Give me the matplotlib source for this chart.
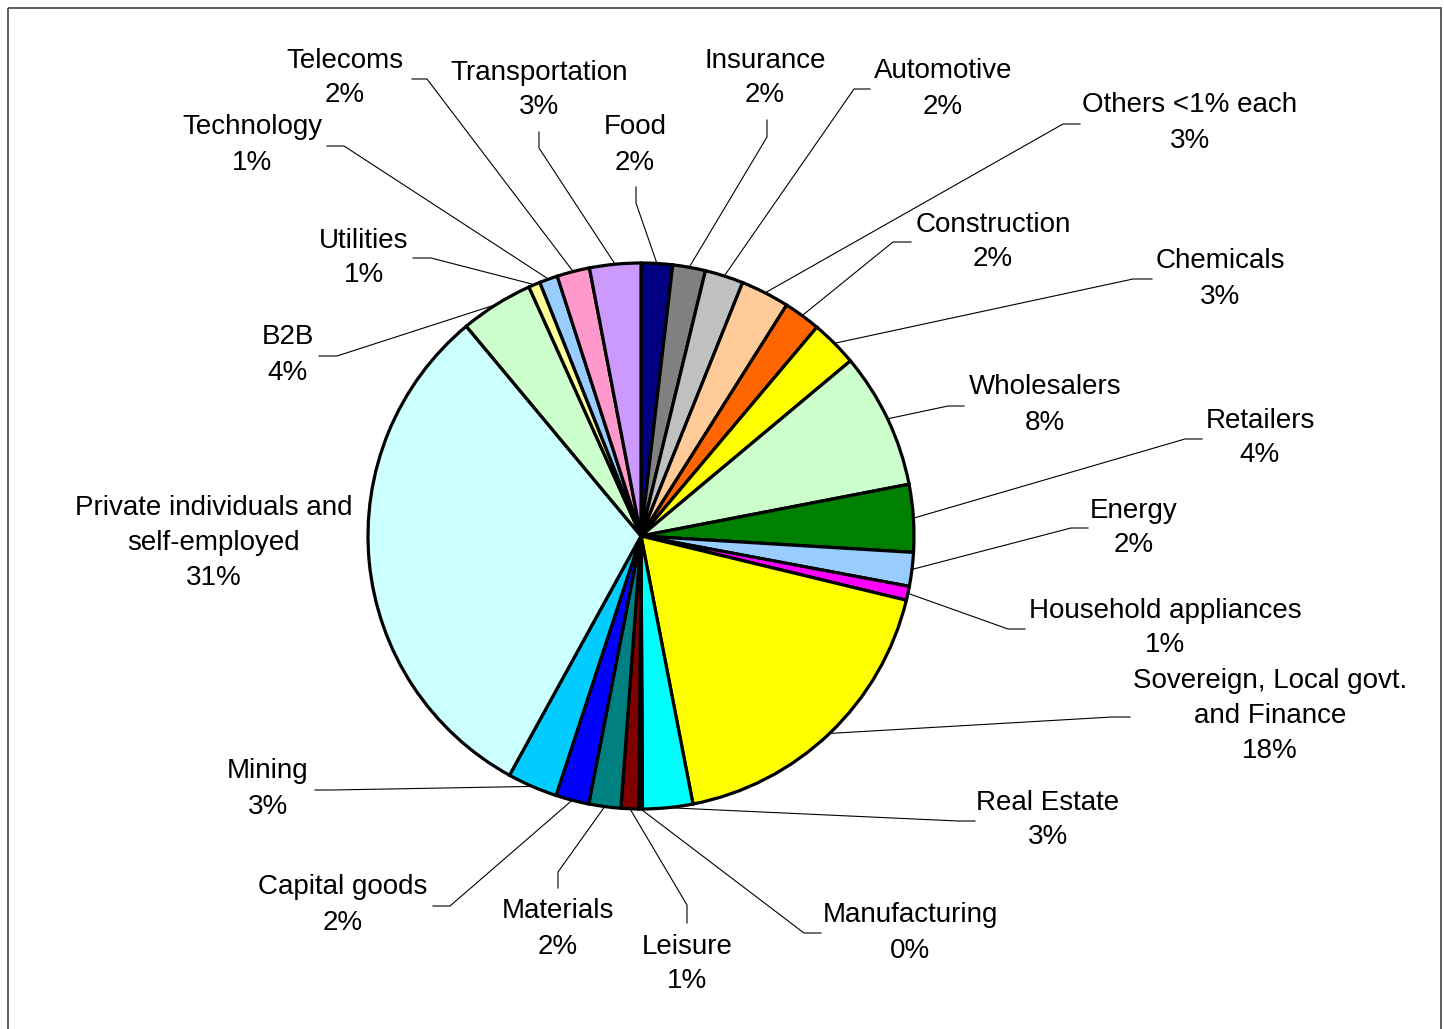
import matplotlib.pyplot as plt
import numpy as np
from matplotlib.patches import Rectangle

plt.rcParams['font.family'] = ['Liberation Sans', 'DejaVu Sans']

# sectors, clockwise from 12 o'clock
sectors = ['Food', 'Insurance', 'Automotive', 'Others <1% each', 'Construction',
           'Chemicals', 'Wholesalers', 'Retailers', 'Energy', 'Household appliances',
           'Sovereign, Local govt.\nand Finance', 'Real Estate', 'Manufacturing',
           'Leisure', 'Materials', 'Capital goods', 'Mining',
           'Private individuals and\nself-employed', 'B2B', 'Utilities',
           'Technology', 'Telecoms', 'Transportation']
shares = [1.86, 1.94, 2.28, 2.89, 2.19,
          2.78, 8.06, 4.00, 2.00, 0.83,
          18.20, 2.97, 0.20,
          1.06, 1.90, 1.97, 2.97,
          31.00, 4.33, 0.69,
          1.08, 1.94, 3.03]
colours = ['#000080', '#808080', '#C0C0C0', '#FFCC99', '#FF6600',
           '#FFFF00', '#CCFFCC', '#008000', '#99CCFF', '#FF00FF',
           '#FFFF00', '#00FFFF', '#800080',
           '#800000', '#008080', '#0000FF', '#00CCFF',
           '#CCFFFF', '#CCFFCC', '#FFFF99',
           '#99CCFF', '#FF99CC', '#CC99FF']

# label block centres and the short leader piece next to each label (pixels)
label_xy = [(635, 145), (765, 78), (943, 89), (1190, 123), (993, 242),
            (1220, 279), (1045, 405), (1260, 438), (1134, 528), (1165, 628),
            (1270, 716), (1048, 820), (910, 933),
            (687, 964), (558, 929), (343, 905), (268, 789),
            (214, 543), (288, 355), (364, 258),
            (252, 145), (345, 78), (539, 90)]
leader_stub = [((636, 187), (636, 203)), ((767, 120), (767, 137)),
               ((870, 89), (854, 89)), ((1080, 124), (1063, 124)),
               ((911, 242), (893, 242)), ((1152, 279), (1133, 279)),
               ((964, 406), (948, 406)), ((1202, 439), (1185, 439)),
               ((1088, 528), (1071, 528)), ((1025, 629), (1008, 629)),
               ((1130, 717), (1112, 717)), ((975, 821), (958, 821)),
               ((821, 933), (804, 933)),
               ((687, 923), (687, 905)), ((558, 888), (558, 872)),
               ((433, 906), (450, 906)), ((315, 790), (332, 790)),
               None, ((319, 356), (337, 356)), ((413, 258), (431, 258)),
               ((327, 146), (344, 146)), ((412, 79), (427, 79)),
               ((539, 132), (539, 148))]

cx, cy, r = 641, 536, 273

fig = plt.figure(figsize=(14.44, 10.29), dpi=100)
ax = fig.add_axes([0, 0, 1, 1])

# y runs downward, so counterclock=True turns clockwise on screen
wedges, _ = ax.pie(shares, colors=colours, startangle=-90, counterclock=True,
                   radius=r, center=(cx, cy),
                   wedgeprops=dict(edgecolor='black', linewidth=2.3))

for w, name, share, (tx, ty), stub in zip(wedges, sectors, shares, label_xy, leader_stub):
    ax.text(tx, ty, f'{name}\n{share:.0f}%', ha='center', va='center',
            ma='center', fontsize=20, linespacing=1.45)
    if stub is None:
        continue
    mid = np.deg2rad((w.theta1 + w.theta2) / 2)
    rim = (cx + r * np.cos(mid), cy + r * np.sin(mid))
    (x0, y0), (x1, y1) = stub
    ax.plot([x0, x1, rim[0]], [y0, y1, rim[1]], color='black', lw=0.8)

ax.add_patch(Rectangle((8, 8), 1433, 1040, fill=False, edgecolor='#404040', lw=1.2))

ax.set_xlim(0, 1444)
ax.set_ylim(1029, 0)
ax.set_aspect('equal')
ax.axis('off')

fig.savefig('out.png', dpi=100)
